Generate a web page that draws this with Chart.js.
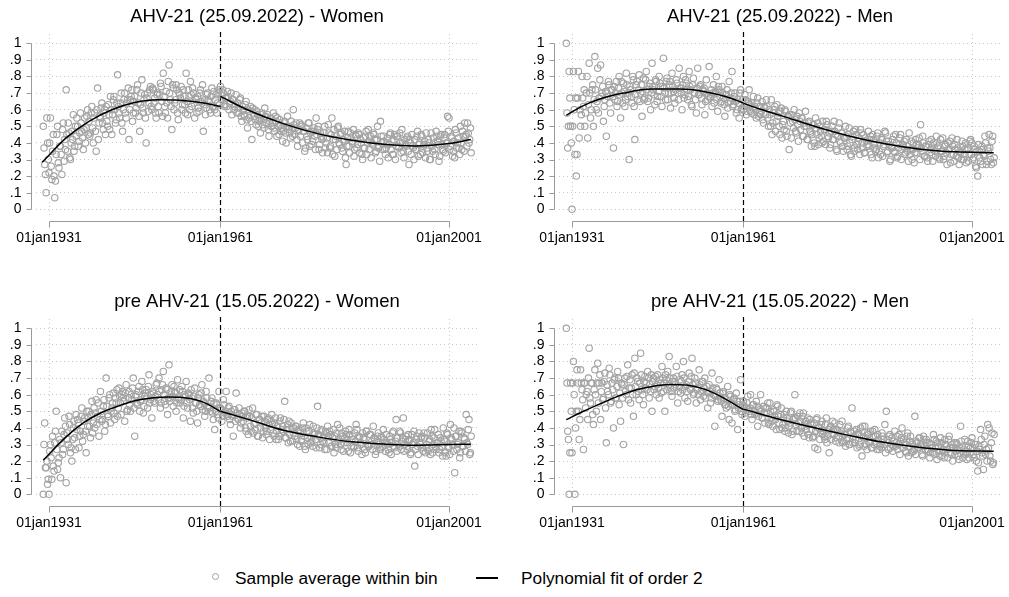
<!DOCTYPE html>
<html>
<head>
<meta charset="utf-8">
<script src="https://cdn.jsdelivr.net/npm/chart.js@4.4.1/dist/chart.umd.min.js"></script>
<style>
  html, body { margin:0; padding:0; background:#fff; }
  body { width:1009px; height:597px; position:relative; overflow:hidden; font-family:"Liberation Sans", Arial, sans-serif; }
  canvas { position:absolute; }
  .lg { position:absolute; font-size:17.3px; color:#000; line-height:20px; white-space:nowrap; }
  .lgc { position:absolute; width:5px; height:5px; border:1.4px solid #a0a0a0; border-radius:50%; }
  .lgl { position:absolute; height:1.5px; background:#000; }
</style>
</head>
<body>
<canvas id="p0" width="514" height="262" style="left:0px;top:0px"></canvas>
<canvas id="p1" width="514" height="262" style="left:523px;top:0px"></canvas>
<canvas id="p2" width="514" height="262" style="left:0px;top:285px"></canvas>
<canvas id="p3" width="514" height="262" style="left:523px;top:285px"></canvas>

<div class="lgc" style="left:212px;top:573px"></div>
<div class="lg" style="left:235px;top:568px">Sample average within bin</div>
<div class="lgl" style="left:476px;top:577px;width:22px"></div>
<div class="lg" style="left:521px;top:568px">Polynomial fit of order 2</div>

<script>
// ---------------- DATA ----------------
const panelTitles = [
  'AHV-21 (25.09.2022) - Women',
  'AHV-21 (25.09.2022) - Men',
  'pre AHV-21 (15.05.2022) - Women',
  'pre AHV-21 (15.05.2022) - Men'
];
const birthYears = [1930,1931,1932,1933,1934,1935,1936,1937,1938,1939,1940,1941,1942,1943,1944,
  1945,1946,1947,1948,1949,1950,1951,1952,1953,1954,1955,1956,1957,1958,1959,
  1960,1961,1962,1963,1964,1965,1966,1967,1968,1969,1970,1971,1972,1973,1974,
  1975,1976,1977,1978,1979,1980,1981,1982,1983,1984,1985,1986,1987,1988,1989,
  1990,1991,1992,1993,1994,1995,1996,1997,1998,1999,2000,2001,2002,2003,2004];
// position of the bins inside each birth year (set A and set B)
const binOffsetsA = [0, 0.25, 0.5, 0.75];
const binOffsetsB = [0.125, 0.375, 0.625, 0.875];
const cutoffYear = 1961;
const xTickValues = [1931, 1961, 2001];
const xTickLabels = ['01jan1931', '01jan1961', '01jan2001'];
const yTickValues = [0, .1, .2, .3, .4, .5, .6, .7, .8, .9, 1];
const yTickLabels = ['0', '.1', '.2', '.3', '.4', '.5', '.6', '.7', '.8', '.9', '1'];

// sample averages within bin (bins of set A, 4 per birth year)
const ahvWomen = [
  .50,.27,.10,.40, .22,.55,.18,.45, .07,.33,.50,.25, .38,.21,.52,.42, .72,.35,.46,.30,
  .47,.57,.38,.44, .50,.41,.58,.47, .36,.55,.49,.60, .53,.46,.62,.40, .58,.35,.73,.52,
  .55,.64,.48,.60, .62,.50,.57,.68, .45,.66,.60,.54, .81,.58,.64,.52, .60,.70,.55,.66,
  .42,.66,.72,.58, .68,.61,.75,.56, .63,.78,.58,.69, .40,.70,.64,.74, .60,.72,.67,.55,
  .70,.58,.76,.65, .82,.62,.71,.55, .87,.66,.48,.73, .64,.75,.58,.70, .67,.60,.72,.63,
  .82,.57,.68,.77, .62,.70,.55,.66, .68,.59,.72,.64, .47,.66,.61,.70, .65,.58,.73,.62,
  .60,.69,.64,.72, .74,.66,.70,.62, .67,.71,.60,.65, .57,.66,.62,.69, .64,.58,.67,.53,
  .60,.56,.65,.49, .55,.62,.42,.58, .60,.51,.57,.53, .46,.58,.54,.61, .52,.57,.44,.55,
  .50,.58,.47,.53, .55,.45,.51,.49, .47,.53,.40,.56, .50,.43,.49,.60, .45,.52,.38,.48,
  .44,.50,.47,.35, .49,.42,.52,.46, .39,.47,.44,.55, .48,.36,.46,.42, .43,.50,.40,.34,
  .46,.38,.55,.42, .32,.44,.49,.40, .45,.37,.42,.47, .27,.43,.38,.46, .41,.48,.36,.44,
  .39,.45,.42,.33, .43,.37,.47,.40, .36,.44,.40,.46, .42,.35,.50,.38, .53,.40,.44,.36,
  .37,.43,.39,.46, .41,.33,.45,.38, .44,.37,.40,.48, .35,.42,.38,.44, .27,.40,.45,.37,
  .42,.36,.47,.39, .33,.44,.38,.41, .46,.35,.40,.30, .38,.43,.36,.47, .41,.29,.44,.39,
  .35,.45,.40,.56, .55,.38,.43,.35, .31,.46,.40,.37, .50,.36,.44,.52, .45,.52,.40,.49
];
const ahvMen = [
  1.0,.37,.83,.50, .00,.83,.33,.20, .67,.43,.50,.80, .62,.50,.70,.43, .88,.55,.72,.50,
  .92,.60,.85,.67, .87,.70,.53,.66, .44,.68,.75,.58, .72,.37,.66,.77, .65,.80,.55,.70,
  .76,.62,.82,.68, .30,.72,.64,.78, .42,.75,.66,.81, .70,.56,.79,.67, .83,.65,.74,.60,
  .88,.72,.63,.77, .68,.80,.74,.62, .91,.70,.77,.66, .75,.61,.82,.71, .64,.78,.70,.85,
  .73,.60,.80,.69, .76,.66,.83,.72, .62,.79,.70,.58, .85,.69,.75,.63, .71,.57,.78,.66,
  .86,.68,.62,.75, .70,.80,.59,.72, .64,.74,.67,.56, .69,.61,.77,.65, .83,.63,.70,.58,
  .66,.55,.72,.61, .60,.69,.57,.65, .72,.59,.64,.68, .62,.55,.67,.58, .57,.65,.52,.61,
  .66,.55,.60,.50, .45,.58,.62,.53, .56,.50,.59,.43, .53,.60,.47,.56, .36,.52,.57,.49,
  .54,.46,.51,.58, .48,.55,.44,.52, .50,.42,.53,.46, .45,.51,.38,.49, .52,.43,.47,.40,
  .41,.48,.53,.44, .46,.39,.50,.42, .47,.36,.44,.52, .40,.46,.35,.43, .44,.38,.49,.33,
  .42,.47,.37,.45, .36,.43,.48,.40, .45,.34,.41,.39, .38,.44,.31,.42, .40,.36,.46,.35,
  .33,.42,.38,.47, .41,.35,.39,.30, .37,.44,.34,.40, .32,.39,.45,.36, .38,.33,.42,.35,
  .46,.36,.30,.40, .34,.39,.37,.43, .51,.35,.40,.32, .38,.29,.41,.36, .33,.40,.35,.44,
  .37,.31,.42,.35, .30,.38,.34,.40, .36,.28,.43,.33, .39,.32,.37,.27, .34,.41,.30,.36,
  .28,.37,.33,.42, .40,.31,.36,.25, .20,.35,.29,.38, .33,.44,.27,.37, .45,.30,.41,.28
];
const preWomen = [
  .00,.43,.16,.06, .00,.30,.09,.17, .31,.50,.15,.22, .10,.38,.27,.46, .07,.33,.47,.25,
  .20,.40,.34,.48, .45,.28,.38,.52, .36,.46,.25,.41, .50,.34,.56,.43, .40,.57,.47,.35,
  .62,.44,.53,.38, .70,.48,.58,.43, .52,.61,.45,.55, .47,.64,.55,.60, .58,.44,.66,.51,
  .62,.50,.57,.70, .35,.60,.54,.65, .56,.68,.49,.59, .63,.52,.72,.57, .46,.61,.55,.66,
  .60,.70,.52,.63, .74,.56,.64,.48, .78,.58,.66,.53, .62,.50,.69,.57, .55,.65,.46,.60,
  .68,.52,.60,.44, .58,.49,.64,.55, .43,.60,.53,.66, .56,.47,.62,.52, .70,.50,.58,.45,
  .39,.55,.48,.62, .52,.44,.57,.49, .62,.47,.53,.42, .48,.35,.51,.61, .46,.52,.40,.49,
  .44,.50,.38,.47, .51,.41,.46,.37, .43,.48,.35,.45, .40,.47,.38,.44, .36,.45,.42,.39,
  .48,.37,.43,.33, .41,.35,.46,.39, .38,.56,.34,.42, .44,.32,.40,.37, .35,.41,.30,.39,
  .37,.33,.43,.29, .40,.34,.38,.31, .32,.41,.36,.28, .53,.35,.30,.38, .34,.27,.37,.41,
  .31,.36,.29,.39, .35,.28,.42,.33, .30,.37,.26,.34, .36,.31,.39,.25, .33,.29,.37,.42,
  .28,.35,.31,.24, .34,.27,.38,.30, .29,.36,.32,.41, .33,.26,.35,.30, .27,.34,.39,.31,
  .36,.30,.25,.33, .31,.38,.28,.45, .34,.29,.37,.32, .46,.30,.35,.27, .32,.24,.36,.31,
  .17,.33,.29,.37, .30,.35,.26,.34, .28,.37,.32,.24, .35,.30,.39,.27, .31,.25,.34,.29,
  .40,.32,.23,.36, .28,.42,.33,.26, .13,.35,.30,.38, .25,.37,.29,.33, .48,.30,.45,.25
];
const preMen = [
  1.0,.38,.00,.67, .25,.80,.00,.50, .67,.33,.75,.63, .27,.67,.60,.45, .88,.55,.67,.42,
  .75,.50,.79,.67, .45,.67,.58,.73, .31,.62,.76,.55, .67,.40,.70,.58, .74,.54,.44,.66,
  .30,.70,.60,.78, .64,.55,.72,.47, .82,.60,.68,.57, .85,.63,.54,.71, .67,.74,.58,.62,
  .50,.70,.65,.60, .72,.58,.67,.77, .62,.50,.69,.74, .83,.64,.59,.70, .68,.77,.55,.65,
  .61,.72,.80,.58, .66,.56,.73,.63, .82,.60,.70,.55, .64,.75,.57,.68, .59,.70,.62,.52,
  .66,.55,.73,.60, .41,.64,.56,.69, .58,.47,.62,.54, .52,.65,.45,.59, .43,.57,.50,.61,
  .39,.54,.69,.48, .56,.47,.52,.59, .50,.60,.45,.54, .48,.56,.41,.52, .60,.46,.53,.43,
  .49,.55,.42,.50, .44,.51,.47,.39, .53,.43,.48,.40, .46,.38,.50,.44, .41,.49,.36,.45,
  .60,.42,.47,.38, .44,.37,.49,.41, .39,.46,.34,.43, .42,.35,.28,.45, .27,.40,.37,.44,
  .38,.33,.46,.35, .25,.41,.36,.39, .43,.34,.38,.31, .37,.44,.32,.36, .33,.40,.30,.38,
  .52,.35,.31,.39, .36,.29,.40,.23, .34,.41,.30,.37, .31,.38,.28,.35, .39,.32,.36,.27,
  .30,.37,.33,.42, .50,.31,.35,.28, .34,.29,.38,.31, .27,.36,.32,.40, .33,.30,.25,.37,
  .29,.35,.31,.26, .47,.32,.28,.34, .30,.24,.35,.29, .33,.27,.31,.25, .28,.36,.24,.32,
  .31,.26,.34,.23, .27,.33,.29,.22, .35,.25,.30,.28, .24,.31,.27,.21, .41,.29,.25,.33,
  .26,.32,.22,.28, .34,.24,.30,.20, .14,.29,.39,.25, .15,.35,.27,.42, .40,.20,.37,.19
];

// sample averages within bin (bins of set B, 4 per birth year)
const ahvWomenB = [
  .37,.21,.55,.30, .40,.26,.35,.20, .17,.45,.28,.38, .33,.48,.29,.36, .45,.52,.31,.40,
  .42,.35,.50,.55, .38,.46,.52,.43, .48,.40,.56,.45, .44,.58,.49,.55, .47,.60,.42,.56,
  .61,.52,.58,.45, .53,.63,.48,.60, .57,.68,.52,.64, .62,.55,.70,.47, .66,.58,.64,.73,
  .60,.68,.53,.65, .58,.72,.64,.47, .70,.61,.66,.55, .67,.59,.72,.62, .73,.64,.58,.69,
  .62,.69,.74,.56, .68,.58,.64,.77, .70,.62,.75,.60, .66,.72,.54,.69, .74,.63,.68,.58,
  .65,.72,.60,.69, .73,.64,.67,.58, .61,.70,.65,.75, .63,.57,.69,.66, .60,.68,.62,.71,
  .66,.58,.70,.63, .69,.72,.63,.67, .62,.68,.64,.70, .66,.60,.63,.58, .61,.66,.56,.62,
  .57,.63,.54,.60, .59,.53,.61,.56, .54,.59,.50,.55, .57,.51,.49,.56, .55,.48,.53,.50,
  .52,.49,.56,.44, .50,.54,.47,.41, .52,.46,.50,.48, .46,.53,.44,.51, .49,.42,.47,.52,
  .51,.40,.47,.37, .44,.52,.38,.47, .41,.49,.36,.45, .50,.39,.44,.34, .46,.37,.43,.51,
  .37,.45,.33,.48, .42,.36,.50,.39, .46,.35,.41,.31, .38,.47,.34,.43, .40,.32,.45,.37,
  .46,.34,.40,.30, .37,.44,.33,.48, .41,.31,.39,.45, .34,.42,.37,.29, .44,.36,.41,.33,
  .40,.31,.45,.36, .33,.42,.30,.44, .38,.46,.34,.40, .31,.39,.43,.35, .42,.33,.38,.30,
  .36,.44,.32,.40, .45,.34,.39,.31, .37,.42,.30,.46, .35,.40,.33,.44, .39,.32,.45,.36,
  .43,.34,.40,.47, .36,.44,.32,.41, .48,.37,.43,.33, .40,.47,.35,.44, .38,.46,.42,.34
];
const ahvMenB = [
  .58,.50,.67,.40, .50,.60,.67,.33, .83,.60,.57,.67, .72,.58,.80,.63, .70,.60,.75,.66,
  .72,.65,.58,.78, .68,.74,.62,.71, .70,.77,.64,.72, .68,.74,.70,.62, .73,.69,.77,.64,
  .71,.66,.75,.70, .74,.68,.80,.62, .69,.77,.72,.65, .75,.71,.66,.78, .72,.67,.76,.70,
  .74,.69,.78,.65, .71,.76,.68,.74, .73,.66,.79,.70, .77,.70,.74,.67, .72,.76,.66,.73,
  .70,.75,.67,.78, .72,.68,.74,.63, .75,.70,.66,.73, .69,.74,.67,.72, .73,.65,.70,.68,
  .67,.72,.70,.64, .71,.66,.74,.68, .65,.70,.63,.69, .72,.64,.67,.70, .62,.68,.65,.60,
  .64,.70,.60,.66, .62,.66,.59,.64, .63,.58,.61,.57, .60,.64,.56,.62, .59,.54,.62,.57,
  .62,.50,.57,.66, .52,.60,.47,.63, .58,.45,.61,.51, .48,.59,.44,.56, .57,.43,.53,.60,
  .47,.56,.41,.53, .55,.44,.50,.59, .42,.52,.47,.38, .51,.40,.55,.45, .39,.50,.44,.53,
  .48,.39,.51,.43, .37,.47,.42,.53, .45,.35,.49,.41, .46,.38,.43,.50, .36,.45,.40,.32,
  .44,.35,.48,.39, .41,.33,.46,.37, .34,.43,.38,.47, .42,.33,.45,.37, .35,.44,.31,.40,
  .43,.32,.39,.46, .34,.41,.29,.38, .42,.35,.45,.31, .37,.43,.30,.39, .41,.34,.38,.29,
  .33,.41,.36,.28, .42,.34,.39,.30, .37,.44,.32,.38, .31,.39,.34,.42, .29,.37,.32,.40,
  .38,.30,.35,.43, .32,.39,.27,.36, .41,.33,.38,.29, .36,.42,.31,.35, .30,.38,.33,.40,
  .36,.29,.41,.33, .30,.38,.26,.35, .39,.31,.36,.27, .32,.40,.29,.35, .37,.27,.44,.31
];
const preWomenB = [
  .30,.16,.20,.09, .26,.22,.35,.14, .38,.27,.19,.33, .31,.24,.36,.41, .37,.30,.42,.28,
  .33,.44,.27,.39, .43,.35,.47,.32, .44,.38,.50,.46, .41,.48,.37,.52, .49,.42,.55,.45,
  .50,.45,.57,.42, .53,.47,.60,.50, .55,.49,.58,.63, .52,.59,.48,.62, .56,.61,.50,.58,
  .54,.60,.64,.52, .59,.55,.62,.50, .57,.63,.53,.61, .58,.65,.55,.60, .62,.56,.59,.67,
  .57,.62,.55,.66, .60,.54,.63,.58, .56,.62,.59,.65, .61,.55,.58,.63, .57,.62,.53,.59,
  .55,.61,.57,.63, .52,.59,.55,.50, .58,.54,.61,.51, .55,.50,.58,.53, .52,.56,.49,.55,
  .50,.54,.46,.52, .51,.47,.54,.50, .48,.52,.45,.50, .47,.51,.44,.49, .45,.48,.43,.47,
  .50,.40,.46,.36, .47,.38,.52,.42, .39,.48,.35,.45, .43,.34,.47,.40, .38,.46,.33,.44,
  .42,.35,.46,.38, .33,.44,.37,.41, .45,.34,.39,.31, .36,.43,.32,.40, .41,.33,.38,.29,
  .32,.40,.35,.27, .38,.30,.42,.34, .29,.37,.33,.40, .36,.28,.39,.32, .31,.38,.27,.35,
  .38,.29,.34,.25, .30,.37,.32,.40, .27,.35,.31,.38, .33,.26,.36,.29, .35,.28,.32,.39,
  .26,.34,.30,.37, .33,.25,.38,.29, .36,.30,.27,.34, .24,.32,.37,.28, .35,.29,.33,.26,
  .31,.27,.35,.24, .37,.29,.32,.26, .30,.38,.27,.34, .26,.33,.29,.36, .33,.25,.30,.38,
  .27,.35,.24,.31, .34,.28,.37,.25, .30,.26,.33,.39, .25,.34,.29,.31, .36,.27,.32,.23,
  .33,.25,.37,.29, .24,.34,.30,.40, .35,.27,.31,.22, .38,.29,.34,.26, .31,.39,.24,.35
];
const preMenB = [
  .67,.33,.25,.50, .67,.60,.40,.75, .50,.45,.67,.57, .67,.52,.62,.70, .58,.67,.48,.63,
  .60,.67,.55,.72, .62,.57,.68,.52, .66,.60,.72,.56, .63,.69,.58,.65, .70,.61,.67,.58,
  .66,.62,.71,.57, .69,.64,.60,.73, .65,.70,.62,.67, .72,.60,.68,.64, .63,.70,.66,.72,
  .68,.63,.71,.66, .64,.69,.61,.70, .67,.72,.63,.66, .70,.62,.68,.64, .66,.71,.62,.69,
  .68,.63,.70,.65, .62,.68,.64,.71, .66,.61,.67,.63, .60,.66,.62,.68, .64,.58,.65,.61,
  .62,.58,.64,.60, .59,.63,.57,.61, .56,.61,.58,.54, .57,.53,.60,.55, .54,.58,.51,.56,
  .52,.56,.50,.54, .53,.49,.55,.51, .52,.48,.54,.50, .49,.53,.47,.51, .50,.46,.49,.52,
  .52,.43,.55,.46, .41,.50,.45,.54, .47,.39,.52,.42, .48,.40,.46,.37, .43,.50,.38,.46,
  .46,.38,.43,.49, .40,.47,.35,.44, .42,.36,.45,.39, .34,.43,.38,.46, .40,.33,.42,.36,
  .35,.42,.31,.39, .40,.33,.44,.36, .32,.39,.35,.42, .38,.31,.36,.29, .34,.41,.30,.37,
  .31,.38,.33,.28, .37,.30,.35,.41, .29,.34,.27,.36, .32,.28,.38,.30, .35,.27,.33,.29,
  .28,.35,.30,.25, .33,.27,.36,.30, .26,.32,.29,.35, .30,.24,.34,.28, .31,.26,.35,.23,
  .32,.25,.30,.27, .24,.31,.28,.34, .29,.23,.33,.27, .31,.26,.22,.30, .25,.33,.28,.21,
  .29,.23,.31,.26, .22,.30,.27,.33, .28,.24,.20,.31, .26,.30,.23,.28, .32,.22,.27,.24,
  .21,.29,.25,.31, .28,.22,.30,.26, .19,.27,.33,.23, .30,.24,.20,.28, .23,.31,.18,.36
];

// polynomial fits (left and right of the cutoff)
const ahvWomenFitLeftX  = [1929.8, 1934, 1938, 1942, 1946, 1950, 1954, 1958, 1961];
const ahvWomenFitLeftY  = [.283, .43, .53, .60, .643, .66, .657, .64, .62];
const ahvWomenFitRightX = [1961, 1966, 1972, 1978, 1984, 1990, 1995, 2001, 2004.8];
const ahvWomenFitRightY = [.68, .595, .516, .456, .416, .39, .382, .396, .42];

const ahvMenFitLeftX  = [1930, 1933, 1936, 1940, 1945, 1950, 1954, 1958, 1961];
const ahvMenFitLeftY  = [.566, .625, .666, .70, .724, .724, .71, .678, .64];
const ahvMenFitRightX = [1961, 1964, 1968, 1974, 1980, 1986, 1992, 1998, 2004.8];
const ahvMenFitRightY = [.638, .603, .56, .494, .437, .393, .362, .346, .341];

const preWomenFitLeftX  = [1930, 1934, 1937, 1940, 1943, 1946, 1949, 1952, 1955, 1958, 1961];
const preWomenFitLeftY  = [.206, .346, .43, .49, .53, .563, .58, .586, .58, .555, .50];
const preWomenFitRightX = [1961, 1966, 1972, 1978, 1984, 1990, 1995, 2001, 2004.8];
const preWomenFitRightY = [.50, .45, .386, .346, .316, .302, .296, .30, .302];

const preMenFitLeftX  = [1930, 1933, 1936, 1939, 1942, 1945, 1948, 1951, 1954, 1957, 1961];
const preMenFitLeftY  = [.45, .50, .546, .59, .627, .65, .662, .658, .635, .59, .51];
const preMenFitRightX = [1961, 1968, 1974, 1979, 1985, 1991, 1997, 2004.8];
const preMenFitRightY = [.513, .446, .396, .358, .316, .286, .266, .26];

// ---------------- RENDERING ----------------
const FONT = '"Liberation Sans", Arial, Helvetica, sans-serif';
const X_MIN = 1928.725, X_MAX = 2006.425;
const Y_MIN = -0.0343, Y_MAX = 1.056;

const stataAxes = {
  id: 'stataAxes',
  beforeDatasetsDraw(chart) {
    const { ctx, chartArea: a, scales: { x } } = chart;
    const px = Math.round(x.getPixelForValue(cutoffYear)) + 0.5;
    ctx.save();
    ctx.strokeStyle = '#000';
    ctx.lineWidth = 1.2;
    ctx.setLineDash([5, 3]);
    ctx.beginPath();
    ctx.moveTo(px, a.top - 2);
    ctx.lineTo(px, a.bottom + 6);
    ctx.stroke();
    ctx.restore();
  },
  afterDraw(chart) {
    const { ctx, chartArea: a, scales: { x, y } } = chart;
    ctx.save();
    ctx.strokeStyle = '#9a9a9a';
    ctx.lineWidth = 1;
    ctx.setLineDash([]);
    ctx.beginPath();
    const ax = Math.round(a.left - 5) + 0.5;
    const yTop = y.getPixelForValue(yTickValues[yTickValues.length - 1]);
    const yBot = y.getPixelForValue(yTickValues[0]);
    ctx.moveTo(ax, Math.round(yBot) + 0.5);
    ctx.lineTo(ax, Math.round(yTop) + 0.5);
    yTickValues.forEach(v => {
      const py = Math.round(y.getPixelForValue(v)) + 0.5;
      ctx.moveTo(ax - 5, py);
      ctx.lineTo(ax, py);
    });
    const ay = Math.round(a.bottom + 6) + 0.5;
    ctx.moveTo(Math.round(x.getPixelForValue(xTickValues[0])) + 0.5, ay);
    ctx.lineTo(Math.round(x.getPixelForValue(xTickValues[xTickValues.length - 1])) + 0.5, ay);
    xTickValues.forEach(v => {
      const px = Math.round(x.getPixelForValue(v)) + 0.5;
      ctx.moveTo(px, ay);
      ctx.lineTo(px, ay + 6);
    });
    ctx.stroke();
    ctx.restore();
  }
};

function toPoints(values, offsets) {
  return values.map((v, i) => ({ x: birthYears[Math.floor(i / 4)] + offsets[i % 4], y: v }));
}

function makePanel(canvasId, title, valuesA, valuesB, fLX, fLY, fRX, fRY) {
  const pts = toPoints(valuesA, binOffsetsA).concat(toPoints(valuesB, binOffsetsB))
    .sort((p, q) => p.x - q.x);
  const fitL = fLX.map((xv, i) => ({ x: xv, y: fLY[i] }));
  const fitR = fRX.map((xv, i) => ({ x: xv, y: fRY[i] }));
  const lineDs = (d) => ({
    data: d, showLine: true, borderColor: '#000', borderWidth: 1.5, pointRadius: 0,
    cubicInterpolationMode: 'monotone', fill: false, order: 0, xAxisID: 'x', yAxisID: 'y'
  });
  new Chart(document.getElementById(canvasId), {
    type: 'scatter',
    data: {
      datasets: [
        lineDs(fitL),
        lineDs(fitR),
        {
          data: pts, pointRadius: 3.2, pointBorderWidth: 1.1, pointHoverRadius: 3.2,
          pointBorderColor: '#a3a3a3', pointBackgroundColor: 'rgba(0,0,0,0)',
          borderColor: '#a3a3a3', backgroundColor: 'rgba(0,0,0,0)', showLine: false,
          order: 1, xAxisID: 'x', yAxisID: 'y'
        }
      ]
    },
    options: {
      responsive: false, animation: false, devicePixelRatio: 1,
      layout: { padding: 0 },
      plugins: {
        legend: { display: false },
        tooltip: { enabled: false },
        title: {
          display: true, text: title, color: '#000',
          font: { family: FONT, size: 18.5, weight: 'normal', lineHeight: 1.2 },
          padding: { top: 6, bottom: 5.8 }
        }
      },
      scales: {
        x: {
          type: 'linear', position: 'bottom', min: X_MIN, max: X_MAX,
          afterFit: s => { s.height = 47; },
          afterBuildTicks: s => { s.ticks = xTickValues.map(v => ({ value: v })); },
          ticks: {
            callback: (v, i) => xTickLabels[i], color: '#000',
            font: { family: FONT, size: 14 }, padding: 14.6, maxRotation: 0, autoSkip: false
          },
          grid: {
            color: c => (c.tick && c.tick.value === cutoffYear) ? 'rgba(0,0,0,0)' : '#c8c8c8',
            lineWidth: 1, drawTicks: false
          },
          border: { display: false, dash: [1, 3] }
        },
        y: {
          type: 'linear', position: 'left', min: Y_MIN, max: Y_MAX,
          afterFit: s => { s.width = 36; },
          afterBuildTicks: s => { s.ticks = yTickValues.map(v => ({ value: v })); },
          ticks: {
            callback: (v, i) => yTickLabels[i], color: '#000',
            font: { family: FONT, size: 14 }, padding: 14.5, autoSkip: false
          },
          grid: { color: '#c8c8c8', lineWidth: 1, drawTicks: false },
          border: { display: false, dash: [1, 3] }
        },
        yR: {
          type: 'linear', position: 'right',
          afterFit: s => { s.width = 34; },
          ticks: { display: false }, grid: { display: false }, border: { display: false }
        }
      }
    },
    plugins: [stataAxes]
  });
}

makePanel('p0', panelTitles[0], ahvWomen, ahvWomenB, ahvWomenFitLeftX, ahvWomenFitLeftY, ahvWomenFitRightX, ahvWomenFitRightY);
makePanel('p1', panelTitles[1], ahvMen, ahvMenB, ahvMenFitLeftX, ahvMenFitLeftY, ahvMenFitRightX, ahvMenFitRightY);
makePanel('p2', panelTitles[2], preWomen, preWomenB, preWomenFitLeftX, preWomenFitLeftY, preWomenFitRightX, preWomenFitRightY);
makePanel('p3', panelTitles[3], preMen, preMenB, preMenFitLeftX, preMenFitLeftY, preMenFitRightX, preMenFitRightY);
</script>
</body>
</html>
